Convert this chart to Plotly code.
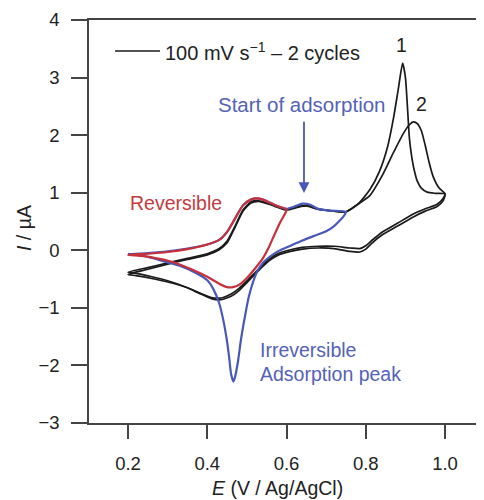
import plotly.graph_objects as go

# ---- data (E in V vs Ag/AgCl, I in µA) ----
cyc1_E = [0.2, 0.25, 0.3, 0.35, 0.4, 0.43, 0.45, 0.47, 0.49, 0.51, 0.53, 0.56, 0.6, 0.63, 0.65, 0.68, 0.72, 0.75,
          0.78, 0.81, 0.835, 0.855, 0.87, 0.882, 0.893, 0.9, 0.905, 0.91, 0.916, 0.922, 0.93, 0.94, 0.955, 0.975, 1.0,
          0.995, 0.98, 0.95, 0.92, 0.88, 0.84, 0.815, 0.8, 0.785, 0.76, 0.72, 0.68, 0.64, 0.61, 0.58, 0.56, 0.54, 0.52, 0.5,
          0.48, 0.46, 0.44, 0.43, 0.41, 0.38, 0.35, 0.3, 0.26, 0.22, 0.2]
cyc1_I = [-0.38, -0.3, -0.22, -0.14, -0.06, 0.03, 0.16, 0.42, 0.7, 0.84, 0.86, 0.8, 0.71, 0.76, 0.78, 0.72, 0.68, 0.67,
          0.8, 1.05, 1.38, 1.8, 2.3, 2.8, 3.25, 3.0, 2.5, 1.95, 1.62, 1.4, 1.2, 1.08, 1.01, 0.99, 0.98,
          0.86, 0.76, 0.68, 0.58, 0.42, 0.26, 0.12, 0.02, -0.03, -0.02, 0.03, 0.04, 0.02, -0.02, -0.08, -0.16, -0.28, -0.42, -0.56,
          -0.7, -0.8, -0.85, -0.86, -0.84, -0.75, -0.65, -0.53, -0.46, -0.4, -0.38]

cyc2_E = [0.2, 0.25, 0.3, 0.35, 0.4, 0.43, 0.45, 0.47, 0.49, 0.51, 0.53, 0.56, 0.6, 0.63, 0.65, 0.68, 0.72, 0.75,
          0.78, 0.81, 0.84, 0.87, 0.895, 0.91, 0.92, 0.93, 0.94, 0.95, 0.96, 0.97, 0.985, 1.0,
          0.995, 0.98, 0.95, 0.92, 0.88, 0.84, 0.815, 0.8, 0.785, 0.76, 0.72, 0.68, 0.64, 0.61, 0.58, 0.56, 0.54, 0.52, 0.5,
          0.48, 0.46, 0.44, 0.43, 0.41, 0.38, 0.35, 0.3, 0.26, 0.22, 0.2]
cyc2_I = [-0.42, -0.33, -0.24, -0.16, -0.08, 0.01, 0.13, 0.4, 0.68, 0.82, 0.85, 0.79, 0.7, 0.75, 0.77, 0.71, 0.68, 0.67,
          0.8, 0.95, 1.28, 1.7, 2.03, 2.18, 2.23, 2.2, 2.08, 1.82, 1.52, 1.28, 1.08, 0.98,
          0.9, 0.8, 0.72, 0.63, 0.47, 0.31, 0.17, 0.08, 0.03, 0.04, 0.07, 0.07, 0.05, 0.01, -0.05, -0.13, -0.25, -0.39, -0.53,
          -0.66, -0.76, -0.82, -0.83, -0.82, -0.74, -0.65, -0.55, -0.49, -0.44, -0.42]

red_E = [0.2, 0.25, 0.3, 0.35, 0.4, 0.43, 0.45, 0.47, 0.49, 0.51, 0.525, 0.54, 0.56, 0.58, 0.6,
         0.595, 0.585, 0.57, 0.555, 0.54, 0.52, 0.5, 0.48, 0.465, 0.45, 0.43, 0.4, 0.36, 0.32, 0.28, 0.24, 0.2]
red_I = [-0.08, -0.06, -0.03, 0.02, 0.1, 0.18, 0.32, 0.55, 0.78, 0.88, 0.9, 0.88, 0.82, 0.76, 0.71,
         0.62, 0.5, 0.28, 0.05, -0.14, -0.32, -0.48, -0.6, -0.64, -0.64, -0.58, -0.46, -0.33, -0.22, -0.15, -0.1, -0.08]

blue_E = [0.2, 0.25, 0.3, 0.35, 0.4, 0.43, 0.45, 0.47, 0.49, 0.51, 0.525, 0.54, 0.56, 0.58, 0.6,
          0.62, 0.64, 0.66, 0.68, 0.71, 0.75,
          0.745, 0.735, 0.72, 0.7, 0.67, 0.64, 0.61, 0.58, 0.56, 0.54, 0.525, 0.515, 0.505, 0.495, 0.485, 0.477,
          0.47, 0.466, 0.46, 0.455, 0.448, 0.44, 0.43, 0.415, 0.4, 0.37, 0.33, 0.28, 0.24, 0.2]
blue_I = [-0.07, -0.05, -0.02, 0.03, 0.1, 0.18, 0.32, 0.55, 0.78, 0.88, 0.9, 0.88, 0.82, 0.76, 0.72,
          0.76, 0.81, 0.79, 0.72, 0.69, 0.67,
          0.6, 0.52, 0.42, 0.33, 0.25, 0.17, 0.08, -0.01, -0.1, -0.22, -0.38, -0.56, -0.8, -1.15, -1.55, -1.95,
          -2.2, -2.28, -2.15, -1.85, -1.5, -1.2, -0.92, -0.67, -0.52, -0.39, -0.27, -0.17, -0.1, -0.06]

x_ticks = [0.2, 0.4, 0.6, 0.8, 1.0]
x_ticklabels = ["0.2", "0.4", "0.6", "0.8", "1.0"]
y_ticks = [-3, -2, -1, 0, 1, 2, 3, 4]
y_ticklabels = ["\u22123", "\u22122", "\u22121", "0", "1", "2", "3", "4"]

FONT = "Liberation Sans, Arial, Helvetica, sans-serif"
BLACK = "#1a1a1a"
RED = "#c8303a"
BLUE = "#4858b8"
BLUE_TXT = "#5462b8"
RED_TXT = "#c53a3e"
AXIS = "#444444"
TXT = "#222222"

fig = go.Figure()
for E, I in ((cyc1_E, cyc1_I), (cyc2_E, cyc2_I)):
    fig.add_trace(go.Scatter(x=E, y=I, mode="lines", showlegend=False,
                             line=dict(color=BLACK, width=1.7, shape="spline", smoothing=0.6)))
fig.add_trace(go.Scatter(x=blue_E, y=blue_I, mode="lines", showlegend=False,
                         line=dict(color=BLUE, width=2.2, shape="spline", smoothing=0.6)))
fig.add_trace(go.Scatter(x=red_E, y=red_I, mode="lines", showlegend=False,
                         line=dict(color=RED, width=2.2, shape="spline", smoothing=0.6)))

# page body has an 8px margin: plot area is placed at page px 89..484 (x) and 20..423 (y)
x0 = (89 - 48.8) / 396.25
x1 = (484 - 48.8) / 396.25

fig.update_layout(
    width=476, height=492,
    margin=dict(l=81, r=0, t=12, b=77, autoexpand=False),
    paper_bgcolor="white", plot_bgcolor="white",
    font=dict(family=FONT, size=18, color=TXT),
    xaxis=dict(range=[x0, x1], tickvals=x_ticks, ticktext=x_ticklabels, showgrid=False, zeroline=False,
               showline=True, linecolor=AXIS, linewidth=1.5, mirror=True,
               ticks="outside", ticklen=14, tickwidth=1.5, tickcolor=AXIS, ticklabelstandoff=9,
               tickfont=dict(size=18.5, color=TXT)),
    yaxis=dict(range=[-3, 4], tickvals=y_ticks, ticktext=y_ticklabels, showgrid=False, zeroline=False,
               showline=True, linecolor=AXIS, linewidth=1.5, mirror=False,
               ticks="outside", ticklen=16, tickwidth=1.5, tickcolor=AXIS, ticklabelstandoff=8,
               tickfont=dict(size=18.5, color=TXT)),
)

# legend-like key
fig.add_shape(type="line", xref="x", yref="y", x0=0.1673, x1=0.2806, y0=3.46, y1=3.46,
              line=dict(color=BLACK, width=1.5))
fig.add_annotation(x=0.288, y=3.46, xref="x", yref="y", xanchor="left", yanchor="middle", showarrow=False,
                   text="100 mV s<sup>\u22121</sup> \u2013 2 cycles", font=dict(size=20, color=TXT))

fig.add_annotation(x=0.891, y=3.57, text="1", showarrow=False, font=dict(size=19.5, color=TXT))
fig.add_annotation(x=0.941, y=2.54, text="2", showarrow=False, font=dict(size=19.5, color=TXT))

fig.add_annotation(x=0.64, y=2.535, text="Start of adsorption", showarrow=False, font=dict(size=20.5, color=BLUE_TXT))
fig.add_annotation(x=0.644, y=0.995, ax=0.644, ay=2.26, axref="x", ayref="y", xref="x", yref="y", text="",
                   showarrow=True, arrowhead=2, arrowsize=1.2, arrowwidth=1.8, arrowcolor=BLUE)
fig.add_annotation(x=0.32, y=0.816, text="Reversible", showarrow=False, font=dict(size=19.5, color=RED_TXT))
fig.add_annotation(x=0.528, y=-1.73, text="Irreversible", xanchor="left", showarrow=False, font=dict(size=19.5, color=BLUE_TXT))
fig.add_annotation(x=0.528, y=-2.15, text="Adsorption peak", xanchor="left", showarrow=False, font=dict(size=19.5, color=BLUE_TXT))

# axis titles
fig.add_annotation(x=(277 - 89) / 395, y=(423 - 488) / 403, xref="paper", yref="paper", showarrow=False,
                   xanchor="center", yanchor="middle",
                   text="<i>E</i> (V / Ag/AgCl)", font=dict(size=19.5, color=TXT))
fig.add_annotation(x=(24 - 89) / 395, y=(423 - 228) / 403, xref="paper", yref="paper", showarrow=False,
                   xanchor="center", yanchor="middle",
                   textangle=-90, text="<i>I</i> / \u00b5A", font=dict(size=19.5, color=TXT))

fig.write_html("out.html")
